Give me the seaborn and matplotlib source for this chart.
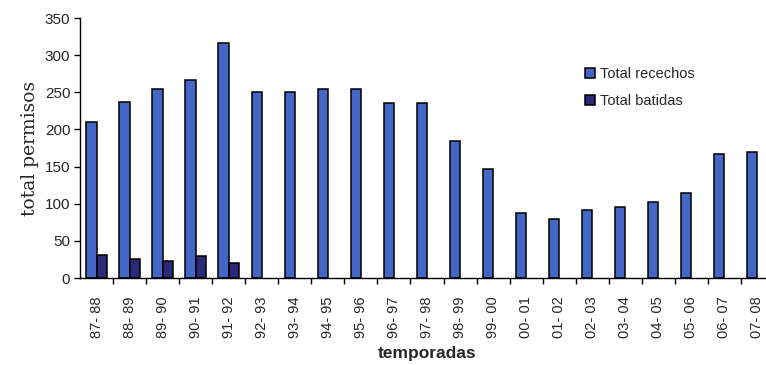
import matplotlib
matplotlib.use("Agg")
import matplotlib.pyplot as plt
from matplotlib import font_manager
from matplotlib.patches import Patch
from matplotlib.ticker import FixedLocator
import pandas as pd
import seaborn as sns

temporadas = ["87- 88", "88- 89", "89- 90", "90- 91", "91- 92", "92- 93", "93- 94",
              "94- 95", "95- 96", "96- 97", "97- 98", "98- 99", "99- 00", "00- 01",
              "01- 02", "02- 03", "03- 04", "04- 05", "05- 06", "06- 07", "07- 08"]
total_recechos = [210, 237, 255, 266, 316, 251, 251, 255, 255, 235, 235,
                  184, 147, 87, 79, 91, 96, 102, 115, 167, 170]
total_batidas = [31, 25, 23, 29, 20, 0, 0, 0, 0, 0, 0,
                 0, 0, 0, 0, 0, 0, 0, 0, 0, 0]
series = ["Total recechos", "Total batidas"]
colors = ["#4466c4", "#2b2a78"]

df = pd.DataFrame({
    "temporada": temporadas * 2,
    "valor": total_recechos + total_batidas,
    "serie": [series[0]] * len(temporadas) + [series[1]] * len(temporadas),
})

sns.set_theme(style="white")
installed = {f.name for f in font_manager.fontManager.ttflist}
narrow = "Liberation Sans Narrow" if "Liberation Sans Narrow" in installed else "Liberation Sans"
plt.rcParams["font.family"] = [narrow, "DejaVu Sans"]

fig = plt.figure(figsize=(7.66, 3.65), dpi=100)
ax = fig.add_axes([80 / 766, 87 / 365, 694 / 766, 260 / 365])

sns.barplot(data=df, x="temporada", y="valor", hue="serie", order=temporadas,
            hue_order=series, palette=colors, width=0.62, edgecolor="black",
            linewidth=1.1, saturation=1, legend=False, ax=ax)

# empty seasons: no outline stub on the baseline
for patch in ax.patches:
    if patch.get_height() == 0:
        patch.set_linewidth(0)

ax.set_xlim(-0.5, len(temporadas) - 0.5)
ax.set_ylim(0, 350)
ax.set_yticks(range(0, 351, 50))
ax.tick_params(axis="y", labelsize=11, length=4, width=1, color="black",
               left=True, pad=3)
ax.tick_params(axis="x", which="major", length=0, labelsize=10.5, pad=13,
               labelrotation=90)
ax.xaxis.set_minor_locator(FixedLocator([i + 0.5 for i in range(len(temporadas))]))
ax.tick_params(axis="x", which="minor", length=4, width=1, color="black", bottom=True)

for side in ["top", "right"]:
    ax.spines[side].set_visible(False)
for side in ["left", "bottom"]:
    ax.spines[side].set_color("black")
    ax.spines[side].set_linewidth(1.0)

ax.set_ylabel("total permisos", family=["DejaVu Serif"], fontsize=13.5, labelpad=4)
ax.set_xlabel("temporadas", fontsize=12.5, fontweight="bold", labelpad=6)

handles = [Patch(facecolor=c, edgecolor="black", linewidth=1.1) for c in colors]
ax.legend(handles, series, loc="upper left", bbox_to_anchor=(572 / 766, 1 - 54 / 365),
          bbox_transform=fig.transFigure, frameon=False, fontsize=10.5,
          handlelength=0.7, handleheight=0.7, handletextpad=0.3, labelspacing=0.9)

fig.savefig("out.png", dpi=100)
